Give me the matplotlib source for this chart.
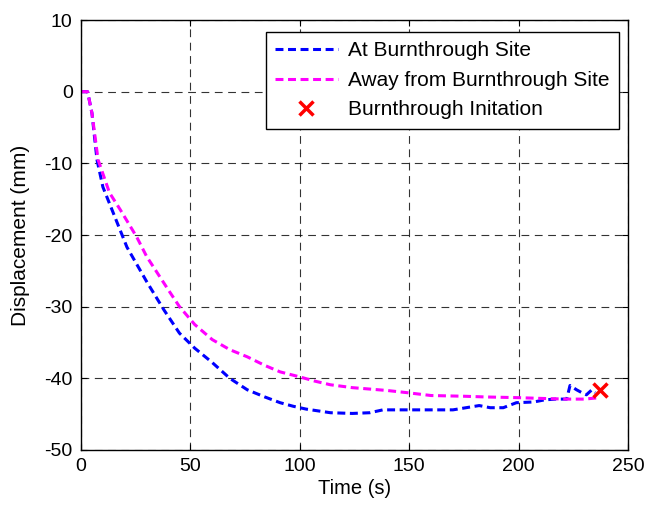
import matplotlib
matplotlib.use("Agg")
import matplotlib.pyplot as plt

plt.rcParams['font.family'] = ['Liberation Sans', 'DejaVu Sans']
plt.rcParams['axes.unicode_minus'] = False

# At burnthrough site (blue)
t_at = [0, 3, 5, 7.3, 10, 15.5, 21, 30, 38, 45, 52, 60, 68, 76, 84, 91, 97,
        103, 114, 124, 132, 138, 150, 160, 170, 182, 187, 193, 199, 207, 212,
        217, 222, 223.5, 226.5, 229.5, 231, 233.5, 235]
d_at = [0, 0, -3, -9.5, -13.3, -17.5, -21.7, -26.5, -30.5, -33.7, -35.8, -37.8,
        -40, -41.6, -42.6, -43.4, -43.9, -44.3, -44.8, -44.9, -44.8, -44.4,
        -44.4, -44.4, -44.4, -43.8, -44.1, -44.1, -43.4, -43.3, -43, -42.9,
        -42.9, -41.0, -41.6, -42.1, -42.3, -41.6, -42]

# Away from burnthrough site (magenta)
t_away = [0, 3, 5, 7.8, 13, 18, 25.5, 30, 40, 45, 52, 60, 68, 76, 84, 91, 100,
          107, 114, 124, 132, 140, 149, 160, 175, 185, 200, 210, 222, 230, 237]
d_away = [0, 0, -3, -9.5, -14.1, -16.5, -20.3, -23, -27.7, -30, -32.5, -34.6,
          -36, -37, -38.2, -39.1, -39.8, -40.4, -40.9, -41.3, -41.5, -41.7, -42,
          -42.4, -42.5, -42.6, -42.7, -42.8, -42.9, -42.9, -42.7]

# burnthrough initiation
t_init = [237]
d_init = [-41.6]

xticks = [0, 50, 100, 150, 200, 250]
yticks = [-50, -40, -30, -20, -10, 0, 10]

fig = plt.figure(figsize=(6.45, 5.08), dpi=100)
ax = fig.add_axes([0.1256, 0.1142, 0.848, 0.8464])

ax.plot(t_at, d_at, color=(0, 0, 1), lw=2.2, ls=(0, (2.6, 1.5)),
        label="At Burnthrough Site")
ax.plot(t_away, d_away, color=(1, 0, 1), lw=2.2, ls=(0, (2.6, 1.5)),
        label="Away from Burnthrough Site")
ax.plot(t_init, d_init, ls='none', marker='x', color='red', ms=10, mew=2.5,
        label="Burnthrough Initation")

ax.set_xlim(0, 250)
ax.set_ylim(-50, 10)
ax.set_xticks(xticks)
ax.set_yticks(yticks)
ax.tick_params(direction='in', top=True, right=True, length=4, labelsize=14,
               pad=6)
ax.grid(True, color='black', ls=(0, (7, 5)), lw=0.8, alpha=0.8)
for s in ax.spines.values():
    s.set_linewidth(1.0)

ax.set_xlabel("Time (s)", fontsize=14.5, labelpad=3)
ax.set_ylabel("Displacement (mm)", fontsize=15, labelpad=10)

leg = ax.legend(loc='upper right', bbox_to_anchor=(0.9836, 0.972),
                borderaxespad=0, fontsize=15, fancybox=False,
                framealpha=1, edgecolor='black', handlelength=3.0,
                handletextpad=0.5, labelspacing=0.5, borderpad=0.45)
leg.get_frame().set_linewidth(1.0)

fig.savefig("out.png", dpi=100)
